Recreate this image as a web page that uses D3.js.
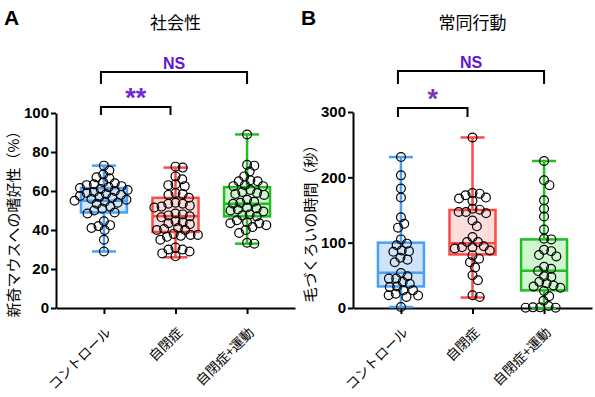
<!DOCTYPE html>
<html lang="ja">
<head>
<meta charset="UTF-8">
<title>社会性 / 常同行動</title>
<script src="https://d3js.org/d3.v7.min.js"></script>
<style>
  body { margin: 0; background: #fff; }
  text { font-family: "Noto Sans CJK JP", "Noto Sans", sans-serif; }
  .num { font-family: "Liberation Sans Narrow", "Liberation Sans", Arial, sans-serif; font-weight: bold; }
</style>
</head>
<body>
<script>
// groups
var categories = ["コントロール", "自閉症", "自閉症+運動"];
var colors = ["#4aa0f2", "#ff4848", "#20c020"];
var fills = ["#cfe3f9", "#fddcdc", "#cff6cf"];

// panel A: 新奇マウスへの嗜好性 (%)
var ticksA = [0, 20, 40, 60, 80, 100];
var ctrlA = [73, 70.5, 68.5, 67, 66.5, 64.5, 64, 63.5, 63, 62.5, 62, 61.5, 61, 60.5, 60, 59.5, 59, 58.5, 58, 57.5,
             57, 56.5, 56, 55.5, 55, 54.5, 54, 53.5, 52, 51, 50, 49, 48.5, 44.5, 42.5, 42, 41, 40, 35, 29];
var autA = [72.5, 72, 67.5, 66, 63.5, 63, 62.5, 59, 58.5, 58, 56.5, 54, 53.5, 53.5, 52.5, 52, 51.5, 48.5, 48, 47.5,
            47, 46.5, 44.5, 44, 43.5, 43, 41, 40.5, 40, 40, 38, 37.5, 37.5, 37, 36.5, 35, 31, 30, 30, 29, 28, 26.5];
var exA = [89, 73.5, 73, 70, 67.5, 65.5, 65, 65, 63, 62.5, 62.5, 60.5, 59.5, 59, 58.5, 58, 55.5, 54.5, 54, 53.5,
           51.5, 51, 50.5, 50, 49.5, 48, 47.5, 47, 45, 44, 43.5, 43.5, 42.5, 41.5, 40, 38.5, 33.5, 33];
var boxMinA = [29, 26, 33];
var boxQ1A = [49, 39, 47];
var boxMedA = [55, 47, 53.5];
var boxQ3A = [61.5, 56.5, 62];
var boxMaxA = [73, 72, 89];

// panel B: 毛づくろいの時間 (秒)
var ticksB = [0, 100, 200, 300];
var ctrlB = [231, 203, 183, 169, 139, 129, 123, 105, 98.5, 96, 88, 87, 86, 77, 74, 70, 53.5, 48.5, 45, 45,
             40, 37, 33, 32, 27, 27, 22, 19.5, 19, 17, 1.5];
var autB = [261, 176, 175, 172.5, 169, 167.5, 164, 152, 150.5, 147, 147, 145, 134, 125, 108.5, 101, 101, 94.5, 93, 93,
            91, 88, 80.5, 75.5, 70, 62, 50, 42.5, 19.5, 17];
var exB = [225, 195.5, 188, 165, 152, 140, 120, 106, 105, 89, 87, 81, 79, 63, 60, 56.5, 48.5, 47.5, 40, 38,
           34.5, 33, 31, 26, 18, 11, 3, 1, 0.5, 0.5, 1];
var boxMinB = [1.5, 16, 0];
var boxQ1B = [33, 82, 27];
var boxMedB = [54, 99, 57];
var boxQ3B = [100, 150, 105];
var boxMaxB = [231, 261, 225];

var panels = [
  { letter: "A", title: "社会性", ylabel: "新奇マウスへの嗜好性（%）", left: 56, right: 295, top: 113, bottom: 308,
    yMax: 100, ticks: ticksA, groups: [ctrlA, autA, exA],
    stats: [boxMinA, boxQ1A, boxMedA, boxQ3A, boxMaxA],
    sig: [{ a: 0, b: 2, up: 41, leg: 29, label: "NS", size: 16, color: "#5e17d6" },
          { a: 0, b: 1, up: 6, leg: -2, label: "**", size: 27, color: "#7326dc" }] },
  { letter: "B", title: "常同行動", ylabel: "毛づくろいの時間（秒）", left: 353, right: 592, top: 112, bottom: 308,
    yMax: 300, ticks: ticksB, groups: [ctrlB, autB, exB],
    stats: [boxMinB, boxQ1B, boxMedB, boxQ3B, boxMaxB],
    sig: [{ a: 0, b: 2, up: 41, leg: 28, label: "NS", size: 16, color: "#5e17d6" },
          { a: 0, b: 1, up: 4, leg: -5, label: "*", size: 27, color: "#7a35b0" }] }
];

var svg = d3.select("body").append("svg")
    .attr("width", 595)
    .attr("height", 397);

// simple beeswarm so circles do not pile up
function swarm(vals, y, d) {
  var placed = [];
  vals.slice().sort(function(a, b) { return b - a; }).forEach(function(v) {
    var py = y(v);
    var near = placed.filter(function(p) { return Math.abs(p.y - py) < d; });
    var cands = [0];
    near.forEach(function(p) {
      var dx = Math.sqrt(d * d - (p.y - py) * (p.y - py));
      cands.push(p.x + dx, p.x - dx);
    });
    cands.sort(function(a, b) { return Math.abs(a) - Math.abs(b); });
    var x = cands.find(function(c) {
      return near.every(function(p) { return (p.x - c) * (p.x - c) + (p.y - py) * (p.y - py) >= d * d - 0.01; });
    });
    placed.push({ x: x, y: py });
  });
  return placed;
}

panels.forEach(function(P) {
  var x = d3.scalePoint().domain(categories).range([P.left, P.right]).padding(0.67);
  var y = d3.scaleLinear().domain([0, P.yMax]).range([P.bottom, P.top]);
  var g = svg.append("g");

  // panel letter + title
  g.append("text")
      .attr("x", P.left - 52).attr("y", 25)
      .style("font-family", "'Liberation Sans', Arial, sans-serif")
      .style("font-size", "21px").style("font-weight", "bold")
      .text(P.letter);
  g.append("text")
      .attr("x", (x(categories[0]) + x(categories[2])) / 2).attr("y", 29)
      .attr("text-anchor", "middle").style("font-size", "17px")
      .text(P.title);

  // y axis
  var yAxis = g.append("g")
      .attr("transform", "translate(" + P.left + ",0)")
      .call(d3.axisLeft(y).tickValues(P.ticks).tickSize(5).tickSizeOuter(0).tickPadding(2));
  yAxis.selectAll("text").attr("class", "num").style("font-size", "15px").attr("fill", "#000");
  yAxis.selectAll("line, path").attr("stroke", "#000").attr("stroke-width", 2);

  g.append("text")
      .attr("transform", "translate(" + (P.left - 37) + "," + ((P.top + P.bottom) / 2 + 10) + ") rotate(-90)")
      .attr("text-anchor", "middle").style("font-size", "15px")
      .text(P.ylabel);

  // x axis
  var xAxis = g.append("g")
      .attr("transform", "translate(0," + P.bottom + ")")
      .call(d3.axisBottom(x).tickSize(6).tickSizeOuter(0));
  xAxis.selectAll("line, path").attr("stroke", "#000").attr("stroke-width", 2);
  xAxis.selectAll("text")
      .style("font-size", "13.5px").attr("fill", "#000")
      .style("text-anchor", "end")
      .attr("dy", "0.35em")
      .attr("x", 0).attr("y", 0)
      .attr("transform", "translate(4,22) rotate(-45)");

  // boxes
  var bw = 23, cw = 12;
  categories.forEach(function(c, i) {
    var cx = x(c);
    var mn = P.stats[0][i], q1 = P.stats[1][i], md = P.stats[2][i], q3 = P.stats[3][i], mx = P.stats[4][i];
    var bg = g.append("g").attr("stroke", colors[i]).attr("stroke-width", 2.5);
    bg.append("line").attr("x1", cx).attr("x2", cx).attr("y1", y(mx)).attr("y2", y(q3));
    bg.append("line").attr("x1", cx).attr("x2", cx).attr("y1", y(q1)).attr("y2", y(mn));
    bg.append("line").attr("x1", cx - cw).attr("x2", cx + cw).attr("y1", y(mx)).attr("y2", y(mx));
    bg.append("line").attr("x1", cx - cw).attr("x2", cx + cw).attr("y1", y(mn)).attr("y2", y(mn));
    bg.append("rect").attr("x", cx - bw).attr("width", bw * 2)
        .attr("y", y(q3)).attr("height", y(q1) - y(q3))
        .attr("fill", fills[i]);
    bg.append("line").attr("x1", cx - bw).attr("x2", cx + bw).attr("y1", y(md)).attr("y2", y(md));
  });

  // individual animals
  P.groups.forEach(function(vals, i) {
    var cx = x(categories[i]);
    g.selectAll(null)
        .data(swarm(vals, y, 7.3))
      .enter().append("circle")
        .attr("cx", function(d) { return cx + d.x; })
        .attr("cy", function(d) { return d.y; })
        .attr("r", 4.4)
        .attr("fill", "none")
        .attr("stroke", "#000")
        .attr("stroke-width", 1.2);
  });

  // significance brackets
  P.sig.forEach(function(s) {
    var x1 = x(categories[s.a]) - 3, x2 = x(categories[s.b]) - (s.b == 1 ? 5 : 0);
    var yb = P.top - s.up, yl = P.top - s.leg;
    g.append("path")
        .attr("d", "M" + x1 + "," + yl + "V" + yb + "H" + x2 + "V" + yl)
        .attr("fill", "none").attr("stroke", "#000").attr("stroke-width", 2);
    var star = s.label.indexOf("*") >= 0;
    g.append("text")
        .attr("x", (x1 + x2) / 2)
        .attr("y", star ? yb : yb - 3)
        .attr("text-anchor", "middle")
        .style("font-family", "'Liberation Sans', Arial, sans-serif")
        .style("font-weight", "bold")
        .style("font-size", s.size + "px")
        .attr("fill", s.color)
        .text(s.label);
  });
});
</script>
</body>
</html>
